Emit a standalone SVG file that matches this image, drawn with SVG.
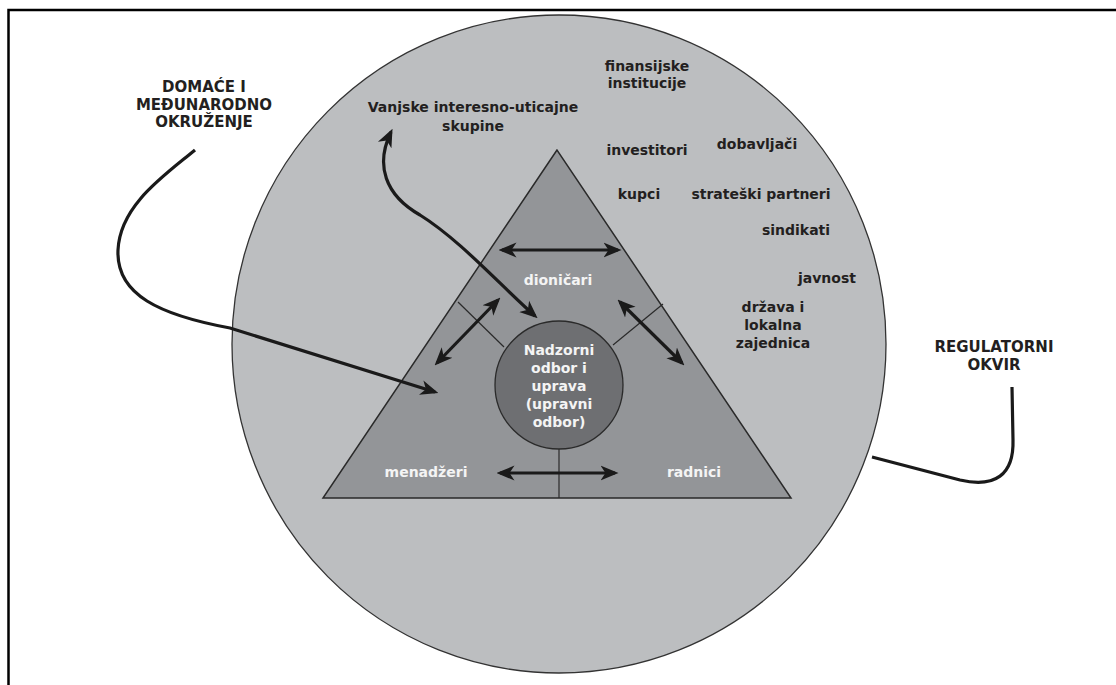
<svg xmlns="http://www.w3.org/2000/svg" width="1116" height="685" viewBox="0 0 1116 685">
<style>
.t{font-family:"DejaVu Sans","Liberation Sans",sans-serif;font-weight:bold;font-size:14px;fill:#231f20;text-anchor:middle}
.cap{font-size:15px}
.w{fill:#f4f4f4}
.con{fill:none;stroke:#1a1a1a;stroke-width:3.2;stroke-linecap:butt}
.div{fill:none;stroke:#2a2a2a;stroke-width:1.2}
</style>
<defs>
<marker id="ah" markerUnits="userSpaceOnUse" markerWidth="18" markerHeight="17" viewBox="0 0 18 17" refX="14.5" refY="8.5" orient="auto-start-reverse">
<path d="M0,1 L18,8.5 L0,16 L5,8.5 Z" fill="#1a1a1a"/>
</marker>
</defs>
<rect width="1116" height="685" fill="#ffffff"/>
<rect x="8.5" y="10" width="1130" height="700" fill="none" stroke="#000" stroke-width="2.5"/>

<g id="outer">
<ellipse cx="559" cy="344" rx="327" ry="329" fill="#bcbec0" stroke="#333" stroke-width="1.3"/>
</g>

<g id="triangle">
<polygon points="557,150 323,498 791,498" fill="#939598" stroke="#2a2a2a" stroke-width="1.5"/>
<line class="div" x1="458" y1="302" x2="504" y2="347"/>
<line class="div" x1="663" y1="304" x2="613" y2="345"/>
<line class="div" x1="559" y1="448" x2="559" y2="498"/>
</g>

<g id="center">
<circle cx="559" cy="385" r="64" fill="#6e6f72" stroke="#2a2a2a" stroke-width="1.3"/>
<text class="t w" x="559" y="355">Nadzorni</text>
<text class="t w" x="559" y="373">odbor i</text>
<text class="t w" x="559" y="391">uprava</text>
<text class="t w" x="559" y="409">(upravni</text>
<text class="t w" x="559" y="427">odbor)</text>
</g>

<g id="dionicari"><text class="t w" x="558" y="285">dioničari</text></g>
<g id="menadzeri"><text class="t w" x="426" y="477">menadžeri</text></g>
<g id="radnici"><text class="t w" x="694" y="477">radnici</text></g>

<g id="vanjske">
<text class="t" x="473" y="112">Vanjske interesno-uticajne</text>
<text class="t" x="473" y="131">skupine</text>
</g>

<g id="stakeholders">
<text class="t" x="647" y="71">finansijske</text>
<text class="t" x="647" y="88">institucije</text>
<text class="t" x="647" y="155">investitori</text>
<text class="t" x="757" y="149">dobavljači</text>
<text class="t" x="639" y="199">kupci</text>
<text class="t" x="761" y="199">strateški partneri</text>
<text class="t" x="796" y="235">sindikati</text>
<text class="t" x="827" y="283">javnost</text>
<text class="t" x="773" y="312">država i</text>
<text class="t" x="773" y="330">lokalna</text>
<text class="t" x="773" y="348">zajednica</text>
</g>

<g id="domace">
<text class="t cap" x="204" y="92">DOMAĆE I</text>
<text class="t cap" x="204" y="110">MEĐUNARODNO</text>
<text class="t cap" x="204" y="127">OKRUŽENJE</text>
</g>

<g id="regulatorni">
<text class="t cap" x="994" y="352">REGULATORNI</text>
<text class="t cap" x="994" y="370">OKVIR</text>
</g>

<g id="connectors">
<line class="con" x1="502" y1="250" x2="618" y2="250" marker-start="url(#ah)" marker-end="url(#ah)"/>
<line class="con" x1="500" y1="473" x2="615" y2="473" marker-start="url(#ah)" marker-end="url(#ah)"/>
<line class="con" x1="498" y1="300" x2="437" y2="363" marker-start="url(#ah)" marker-end="url(#ah)"/>
<line class="con" x1="620" y1="302" x2="682" y2="363" marker-start="url(#ah)" marker-end="url(#ah)"/>
<path class="con" d="M391,132 C375,165 385,195 420,215 C460,240 500,285 535,316" marker-start="url(#ah)" marker-end="url(#ah)"/>
<path class="con" d="M195,150 C165,175 120,205 118,250 C116,295 160,315 230,328 L435,392" marker-end="url(#ah)"/>
<path class="con" d="M1012,387 L1013,440 C1014,475 995,488 960,480 L872,457"/>
</g>
</svg>
